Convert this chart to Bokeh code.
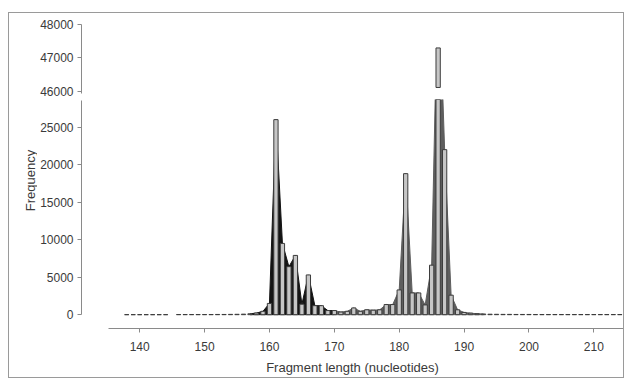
import math
from bokeh.plotting import figure
from bokeh.layouts import column, row
from bokeh.models import Range1d, FixedTicker, Label, ColumnDataSource
from bokeh.embed import file_html
from bokeh.resources import INLINE

# ---------------- data ----------------
lengths = [138, 139, 140, 141, 142, 143, 144,
           146, 147, 148, 149, 150, 151, 152, 153, 154, 155,
           156, 157, 158, 159, 160, 161, 162, 163, 164, 165,
           166, 167, 168, 169, 170, 171, 172, 173, 174, 175,
           176, 177, 178, 179, 180, 181, 182, 183, 184, 185,
           186, 187, 188, 189, 190, 191, 192, 193, 194, 195,
           196, 197, 198, 199, 200, 201, 202, 203, 204, 205,
           206, 207, 208, 209, 210, 211, 212, 213, 214]
frequency = [5, 5, 5, 5, 5, 5, 5,
             20, 20, 20, 20, 20, 20, 30, 30, 40, 50,
             70, 120, 220, 450, 1500, 26000, 9500, 6400, 7900, 1400,
             5300, 1200, 1200, 550, 550, 350, 450, 900, 450, 650,
             600, 650, 1350, 1350, 3300, 18800, 2900, 2900, 1300, 6600,
             47300, 22000, 2600, 650, 300, 200, 130, 90, 60, 50,
             40, 40, 30, 30, 30, 20, 20, 20, 20, 20,
             20, 20, 20, 20, 20, 20, 20, 20, 20]
x_ticks = [140, 150, 160, 170, 180, 190, 200, 210]
lower_ticks = [0, 5000, 10000, 15000, 20000, 25000]
upper_ticks = [46000, 47000, 48000]
dark_span = (157, 170)    # first cluster (black envelope)
grey_span = (170, 193)    # second cluster (grey envelope)
break_low = 28684         # top of lower panel
break_high = 46120        # start of upper panel bar piece

# ---------------- styles ----------------
FONT = "Liberation Sans"
TXT = "#3a3a3a"
AX = "#8a8a8a"
BAR_FILL = "#c6c6c6"
BAR_LINE = "#3c3c3c"
BAR_W = 0.66

xr = Range1d(131.03, 214.57)


def style_y(p, ticks, bounds):
    ax = p.yaxis[0]
    ax.ticker = FixedTicker(ticks=ticks)
    ax.bounds = bounds
    ax.axis_line_color = AX
    ax.major_tick_line_color = AX
    ax.minor_tick_line_color = None
    ax.major_tick_out = 4
    ax.major_tick_in = 0
    ax.major_label_standoff = 4
    ax.major_label_text_font = FONT
    ax.major_label_text_font_size = "12px"
    ax.major_label_text_color = TXT


# ---------------- y-axis title strip ----------------
lab = figure(width=28, height=364, x_range=Range1d(0, 28), y_range=Range1d(0, 364),
             output_backend="svg", toolbar_location=None,
             x_axis_location=None, y_axis_location=None,
             min_border=0)
lab.grid.visible = False
lab.outline_line_color = None
lab.add_layout(Label(x=21, y=197, text="Frequency", angle=math.pi / 2,
                     text_align="center", text_baseline="middle",
                     text_font=FONT, text_font_size="13px",
                     text_color=TXT))

# ---------------- upper panel ----------------
up_x = [l for l, f in zip(lengths, frequency) if f > upper_ticks[0]]
up_f = [f for f in frequency if f > upper_ticks[0]]
p_top = figure(width=586, height=86, x_range=xr,
               y_range=Range1d(45940.3, 48119.4),
               output_backend="svg", toolbar_location=None,
               x_axis_location=None,
               min_border_left=43, min_border_right=0,
               min_border_top=7, min_border_bottom=6)
p_top.grid.visible = False
p_top.outline_line_color = None
p_top.vbar(x=up_x, top=up_f, bottom=break_high, width=BAR_W,
           fill_color=BAR_FILL, line_color=BAR_LINE, line_width=1)
style_y(p_top, upper_ticks, (45940.3, 48000))

# ---------------- lower panel ----------------
p = figure(width=586, height=278, x_range=xr,
           y_range=Range1d(-1842, break_low),
           output_backend="svg", toolbar_location=None,
           min_border_left=43, min_border_right=0,
           min_border_top=0, min_border_bottom=46)
p.grid.visible = False
p.outline_line_color = None

for (lo, hi), col in ((dark_span, "#141414"), (grey_span, "#5e5e5e")):
    px = [l for l in lengths if lo <= l <= hi]
    py = [f for l, f in zip(lengths, frequency) if lo <= l <= hi]
    p.patch([px[0]] + px + [px[-1]], [0] + py + [0],
            fill_color=col, line_color=col, line_width=1)

src = ColumnDataSource(dict(x=lengths, top=frequency))
p.vbar(x="x", top="top", bottom=0, width=BAR_W, source=src,
       fill_color=BAR_FILL, line_color=BAR_LINE, line_width=1)

style_y(p, lower_ticks, (0, 28500))

xa = p.xaxis[0]
xa.ticker = FixedTicker(ticks=x_ticks)
xa.bounds = (135.2, 214.9)
xa.axis_line_color = AX
xa.major_tick_line_color = AX
xa.minor_tick_line_color = None
xa.major_tick_out = 4
xa.major_tick_in = 0
xa.major_label_standoff = 9
xa.major_label_text_font = FONT
xa.major_label_text_font_size = "12px"
xa.major_label_text_color = TXT
xa.axis_label = "Fragment length (nucleotides)"
xa.axis_label_text_font = FONT
xa.axis_label_text_font_size = "13px"
xa.axis_label_text_font_style = "normal"
xa.axis_label_text_color = TXT
xa.axis_label_standoff = 6

layout = row(lab, column(p_top, p, spacing=0), spacing=0,
             margin=(12, 0, 0, 8),
             styles={"border": "1px solid #9a9a9a"})

open("out.html", "w").write(file_html(layout, INLINE))
